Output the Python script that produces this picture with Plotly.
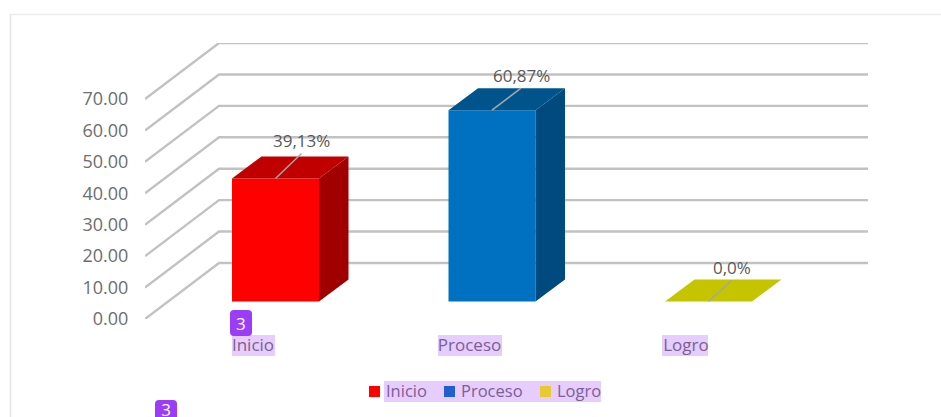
import plotly.graph_objects as go

# --- data ---
categories = ["Inicio", "Proceso", "Logro"]
values = [39.13, 60.87, 0.0]
data_labels = ["39,13%", "60,87%", "0,0%"]
y_ticks = [0, 10, 20, 30, 40, 50, 60, 70]
y_tick_labels = ["0.00", "10.00", "20.00", "30.00", "40.00", "50.00", "60.00", "70.00"]
front_colors = ["#ff0000", "#0070c0", "#c4c400"]
top_colors = ["#c00000", "#00548c", "#c4c400"]
side_colors = ["#a00000", "#004a80", "#c4c400"]
legend_colors = ["#ff0000", "#1f5fd0", "#e8c92f"]

W, H = 941, 417
# plot frame in pixels
PL, PR, PT, PB = 145, 868, 43, 319
px_per_cat = 216.5
px_per_val = 220 / 70
cat0_px = 275.5

xr = [(PL - cat0_px) / px_per_cat, (PR - cat0_px) / px_per_cat]
yr = [0, (PB - PT) / px_per_val]


def ux(px):
    return px / px_per_cat


def uy(px):
    return px / px_per_val


idx = list(range(len(categories)))
bar_w = ux(87)
bar_base = uy(319 - 301.5)
bdx, bdy = ux(29.5), uy(22)
gdx, gdy = ux(74), uy(56)
GRID = "#c2c2c2"
leader_px = [(26, 25), (29, 22), (23, 21)]

fig = go.Figure()

# front faces
fig.add_bar(x=idx, y=values, base=bar_base, width=bar_w,
            marker=dict(color=front_colors, line=dict(width=0)),
            hoverinfo="skip", showlegend=False)

# top & side faces
for i, v in zip(idx, values):
    xl, xr_ = i - bar_w / 2, i + bar_w / 2
    top = bar_base + v
    if v > 0:
        fig.add_scatter(x=[xr_, xr_ + bdx, xr_ + bdx, xr_, xr_],
                        y=[top, top + bdy, bar_base + bdy, bar_base, top],
                        mode="lines", fill="toself", fillcolor=side_colors[i],
                        line=dict(width=0), hoverinfo="skip", showlegend=False)
    fig.add_scatter(x=[xl, xl + bdx, xr_ + bdx, xr_, xl],
                    y=[top, top + bdy, top + bdy, top, top],
                    mode="lines", fill="toself", fillcolor=top_colors[i],
                    line=dict(width=0), hoverinfo="skip", showlegend=False)
    # leader line
    lx, ly = leader_px[i]
    fig.add_scatter(x=[i, i + ux(lx)], y=[top, top + uy(ly)],
                    mode="lines", line=dict(color="#a6a6a6", width=1.5),
                    hoverinfo="skip", showlegend=False)

FONT = "Open Sans"
# badge digit that runs off the page bottom: a page-wide hidden axis pair holds it,
# a text trace does not push the margins the way a paper annotation does
fig.add_scatter(x=[166], y=[H - 412], xaxis="x2", yaxis="y2",
                mode="text", text=["3"], textposition="middle center", cliponaxis=False,
                textfont=dict(family=FONT, size=17, color="#ffffff"),
                hoverinfo="skip", showlegend=False)

shapes = []
# chart frame
shapes.append(dict(type="line", xref="paper", yref="paper", x0=10.5 / W, x1=10.5 / W,
                   y0=0, y1=1 - 14 / H, line=dict(color="#e3e3e3", width=1.5)))
shapes.append(dict(type="line", xref="paper", yref="paper", x0=10 / W, x1=1,
                   y0=1 - 14.5 / H, y1=1 - 14.5 / H, line=dict(color="#ececec", width=1.5)))

# 3-D gridlines
for t in y_ticks:
    path = f"M {xr[0]} {t} L {xr[0] + gdx} {t + gdy} L {xr[1]} {t + gdy}"
    shapes.append(dict(type="path", xref="x", yref="y", path=path, layer="below",
                       line=dict(color=GRID, width=2.4)))


def hl(x0, x1, y0, y1):
    return dict(type="rect", xref="paper", yref="paper", x0=x0 / W, x1=x1 / W,
                y0=1 - y1 / H, y1=1 - y0 / H, fillcolor="#e6ccff",
                line=dict(width=0), layer="below")


# highlights behind category labels and legend text
shapes += [hl(232, 275, 335, 356), hl(438, 502, 335, 356), hl(662, 708, 335, 356),
           hl(384, 601, 381, 402)]


# purple badges
def badge(x0, x1, y0, y1, r=4):
    a, b = x0 / W, x1 / W
    t, u = 1 - y0 / H, 1 - y1 / H
    rx, ry = r / W, r / H
    p = (f"M {a + rx} {t} L {b - rx} {t} Q {b} {t} {b} {t - ry} L {b} {u + ry} "
         f"Q {b} {u} {b - rx} {u} L {a + rx} {u} Q {a} {u} {a} {u + ry} "
         f"L {a} {t - ry} Q {a} {t} {a + rx} {t} Z")
    return dict(type="path", xref="paper", yref="paper", path=p, layer="below",
                fillcolor="#9b3cf6", line=dict(width=0))


shapes += [badge(230, 252, 310, 336), badge(155, 177, 400, 426)]

# legend swatches
legend_x = [369, 444, 540]
for c, lx in zip(legend_colors, legend_x):
    shapes.append(dict(type="rect", xref="paper", yref="paper", x0=lx / W, x1=(lx + 11) / W,
                       y0=1 - 397 / H, y1=1 - 386 / H, fillcolor=c, line=dict(width=0)))

annotations = []
# data labels
for i, v, lab in zip(idx, values, data_labels):
    lx, ly = leader_px[i]
    annotations.append(dict(x=i + ux(lx), y=bar_base + v + uy(ly),
                            xref="x", yref="y", text=lab, showarrow=False,
                            yanchor="middle", yshift=13,
                            font=dict(family=FONT, size=17, color="#595959")))
# legend text
for cat, tx in zip(categories, [384, 459, 555]):
    annotations.append(dict(x=tx / W, y=1 - 390.5 / H, xref="paper", yref="paper",
                            text=cat, showarrow=False, xanchor="left", yanchor="middle",
                            font=dict(family=FONT, size=16.5, color="#7b6093")))
# first badge digit
annotations.append(dict(x=241 / W, y=1 - 323 / H, xref="paper", yref="paper",
                        text="3", showarrow=False, xanchor="center", yanchor="middle",
                        font=dict(family=FONT, size=17, color="#ffffff")))

fig.update_layout(
    width=W, height=H, autosize=False,
    margin=dict(l=0, r=0, t=0, b=0),
    paper_bgcolor="#ffffff", plot_bgcolor="rgba(0,0,0,0)",
    showlegend=False, shapes=shapes, annotations=annotations,
    xaxis=dict(domain=[PL / W, PR / W], range=xr, showgrid=False, zeroline=False,
               automargin=False,
               showline=False, tickmode="array",
               tickvals=[i - ux(22.5) for i in idx], ticktext=categories,
               ticks="outside", ticklen=11, tickcolor="rgba(0,0,0,0)",
               tickfont=dict(family=FONT, size=17, color="#7b6093")),
    yaxis=dict(domain=[1 - PB / H, 1 - PT / H], range=yr, showgrid=False, zeroline=False,
               automargin=False,
               showline=False, tickmode="array", tickvals=y_ticks, ticktext=y_tick_labels,
               ticks="outside", ticklen=12, tickcolor="rgba(0,0,0,0)",
               tickfont=dict(family=FONT, size=18, color="#6e6e6e")),
    xaxis2=dict(domain=[0, 1], range=[0, W], visible=False, anchor="y2", fixedrange=True),
    yaxis2=dict(domain=[0, 1], range=[0, H], visible=False, anchor="x2", fixedrange=True),
)

fig.write_html("out.html", config={"displayModeBar": False},
               default_width="941px", default_height="417px",
               post_script="document.body.style.margin='0';document.body.style.overflow='hidden';")
